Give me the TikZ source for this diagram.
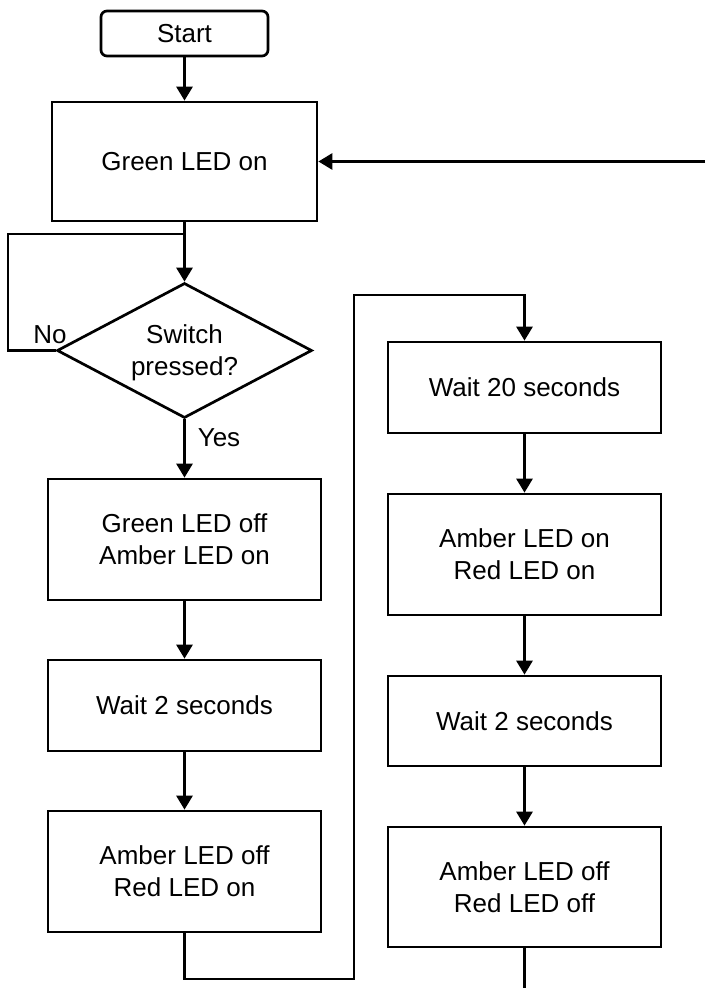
\documentclass[tikz,border=0pt]{standalone}
\usepackage{fontspec}
\setmainfont{Liberation Sans}
\usetikzlibrary{shapes.geometric,arrows.meta}
\begin{document}
\begin{tikzpicture}[x=1pt,y=-1pt,
  every node/.style={font=\fontsize{26}{32}\selectfont},
  box/.style={draw,line width=2.7pt,minimum width=273pt,inner sep=0pt,align=center},
  startbox/.style={draw,line width=2.7pt,rounded corners=6pt,minimum width=167pt,minimum height=45pt,inner sep=0pt},
  decision/.style={draw,diamond,line width=2.7pt,minimum width=255pt,minimum height=135pt,inner sep=0pt},
  conn/.style={line width=2.7pt},
  arr/.style={conn,-{Triangle[length=14pt,width=16pt]}},
  lbl/.style={inner sep=0pt}
]
\useasboundingbox (0,0) rectangle (705,988);
\node[startbox] (start) at (184.5,33.5) {Start};
\node[box,minimum width=265pt,minimum height=119pt] (g) at (184.5,161.5) {Green LED on};
\node[decision] (d) at (184.5,350.5) {};
\node[lbl,align=center] (dtext) at (184.5,353) {Switch\\pressed?};
\node[box,minimum height=121pt] (b1) at (184.5,539.5) {Green LED off\\Amber LED on};
\node[box,minimum height=91pt] (w2l) at (184.5,705.5) {Wait 2 seconds};
\node[box,minimum height=121pt] (b2) at (184.5,871.5) {Amber LED off\\Red LED on};
\node[box,minimum height=91pt] (w20) at (524.5,387.5) {Wait 20 seconds};
\node[box,minimum height=121pt] (b3) at (524.5,554.5) {Amber LED on\\Red LED on};
\node[box,minimum height=90pt] (w2r) at (524.5,721) {Wait 2 seconds};
\node[box,minimum height=120pt] (b4) at (524.5,887) {Amber LED off\\Red LED off};
\node[lbl] (no) at (50,335) {No};
\node[lbl] (yes) at (219,438) {Yes};

\coordinate (rin) at (705,161.5);
\coordinate (j) at (184.5,234);
\coordinate (nl1) at (8,350.5);
\coordinate (nl2) at (8,234);
\coordinate (lb) at (184.5,979);
\coordinate (lb2) at (354,979);
\coordinate (lt) at (354,295);
\coordinate (rt) at (524.5,295);
\coordinate (bend) at (524.5,988);

\draw[arr] (start) -- (g);
\draw[arr] (g) -- (d);
\draw[conn] (d.west) -- (nl1) -- (nl2) -- (j);
\draw[arr] (d) -- (b1);
\draw[arr] (b1) -- (w2l);
\draw[arr] (w2l) -- (b2);
\draw[arr] (b2.south) -- (lb) -- (lb2) -- (lt) -- (rt) -- (w20.north);
\draw[arr] (w20) -- (b3);
\draw[arr] (b3) -- (w2r);
\draw[arr] (w2r) -- (b4);
\draw[conn] (b4.south) -- (bend);
\draw[arr] (rin) -- (g.east);
\end{tikzpicture}
\end{document}
